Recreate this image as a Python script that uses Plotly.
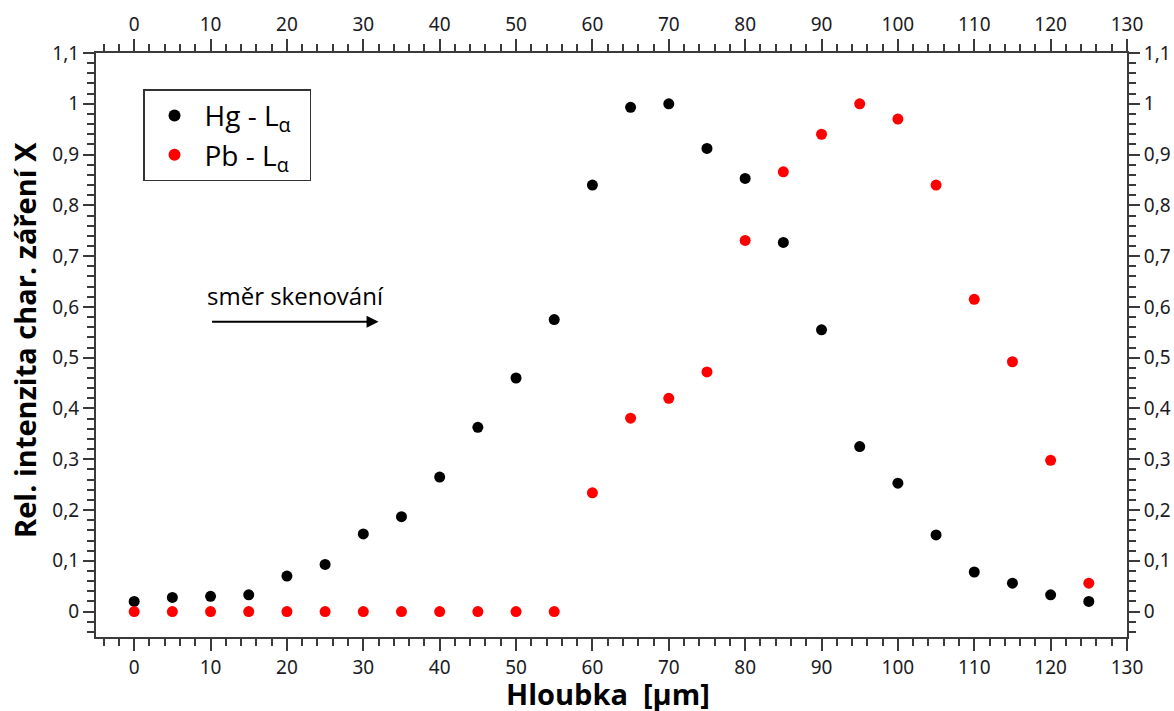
import plotly.graph_objects as go

depth = [0, 5, 10, 15, 20, 25, 30, 35, 40, 45, 50, 55, 60, 65, 70, 75, 80, 85, 90, 95, 100, 105, 110, 115, 120, 125]
hg = [0.02, 0.028, 0.03, 0.033, 0.07, 0.093, 0.153, 0.187, 0.265, 0.363, 0.46, 0.575, 0.84, 0.993, 1.0,
      0.912, 0.853, 0.727, 0.555, 0.325, 0.253, 0.151, 0.078, 0.056, 0.033, 0.02]
pb = [0, 0, 0, 0, 0, 0, 0, 0, 0, 0, 0, 0, 0.234, 0.381, 0.42, 0.472, 0.731, 0.866, 0.94, 1.0,
      0.97, 0.84, 0.615, 0.492, 0.298, 0.056]

x_range = [-5, 130]
y_range = [-0.05, 1.1]

tick_font = dict(family="Noto Sans", size=19, color="#1a1a24")
axis_color = "#3a3a3a"

fig = go.Figure()
fig.add_trace(go.Scatter(x=depth, y=hg, mode="markers", name="Hg - L<sub>α</sub>\u2002",
                         marker=dict(color="black", size=11)))
fig.add_trace(go.Scatter(x=depth, y=pb, mode="markers", name="Pb - L<sub>α</sub>\u2002",
                         marker=dict(color="#ff0000", size=11)))
fig.add_trace(go.Scatter(x=[None], y=[None], xaxis="x2", yaxis="y2", showlegend=False, hoverinfo="skip"))

common_x = dict(range=x_range, dtick=10, tick0=0, ticks="outside", ticklen=12, tickwidth=1.5,
                tickcolor=axis_color, showline=True, linewidth=2, linecolor=axis_color,
                showgrid=False, zeroline=False, tickfont=tick_font, automargin=False,
                minor=dict(dtick=2, tick0=0, ticks="outside", ticklen=7, tickwidth=1.5, tickcolor=axis_color))
common_y = dict(range=y_range, dtick=0.1, tick0=0, ticks="outside", ticklen=11, tickwidth=1.5,
                tickcolor=axis_color, showline=True, linewidth=2, linecolor=axis_color,
                showgrid=False, zeroline=False, tickfont=tick_font, automargin=False,
                minor=dict(dtick=0.02, tick0=0, ticks="outside", ticklen=7, tickwidth=1.5, tickcolor=axis_color))

fig.update_layout(
    width=1174, height=711,
    margin=dict(l=96, r=47, t=53, b=74),
    paper_bgcolor="white", plot_bgcolor="white",
    separators=", ",
    xaxis=dict(**common_x),
    yaxis=dict(**common_y),
    xaxis2=dict(**common_x, overlaying="x", side="top"),
    yaxis2=dict(**common_y, overlaying="y", side="right"),
    showlegend=True,
    legend=dict(x=0.0456, y=0.938, xanchor="left", yanchor="top",
                bordercolor="#333", borderwidth=1.5, bgcolor="white",
                font=dict(family="Open Sans", size=28, color="black"),
                itemsizing="constant", tracegroupgap=0, itemwidth=50),
    annotations=[
        dict(x=0.497, y=-0.0976, xref="paper", yref="paper", xanchor="center", yanchor="middle",
             text="<b>Hloubka  [µm]</b>", showarrow=False,
             font=dict(family="Open Sans", size=29, color="black")),
        dict(x=-0.0689, y=0.5086, xref="paper", yref="paper", xanchor="center", yanchor="middle",
             text="<b>Rel. intenzita char. záření X</b>", showarrow=False, textangle=-90,
             font=dict(family="Open Sans", size=29, color="black")),
        dict(x=32, y=0.571, ax=10, ay=0.571, xref="x", yref="y", axref="x", ayref="y",
             text="", showarrow=True, arrowhead=2, arrowsize=1.2, arrowwidth=2, arrowcolor="black"),
        dict(x=21.1, y=0.622, xref="x", yref="y", text="směr skenování", showarrow=False,
             font=dict(family="Open Sans", size=24, color="black")),
    ],
)

# Remove the browser's default body margin so the figure fills the window exactly.
fig.write_html("out.html", config={"displayModeBar": False},
               post_script="document.body.style.margin='0';document.body.style.overflow='hidden';")
